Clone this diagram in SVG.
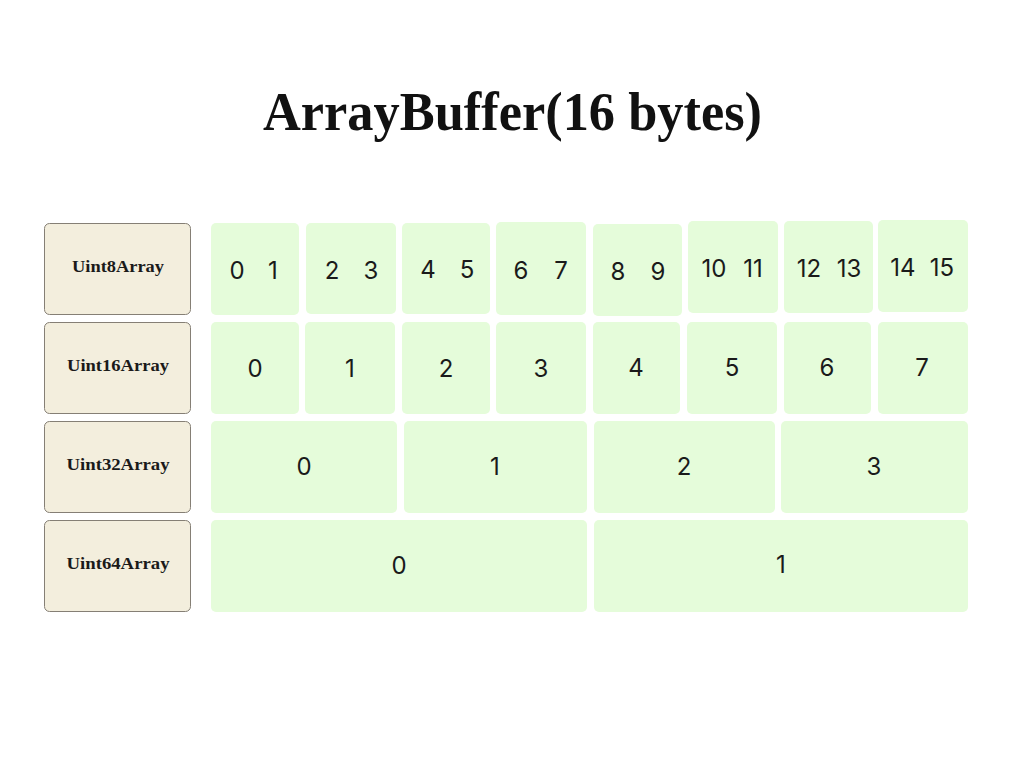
<svg xmlns="http://www.w3.org/2000/svg" width="1024" height="768" viewBox="0 0 1024 768">
<style>
.bg{fill:#ffffff}
.lbl{fill:#f3eedd;stroke:#857f75;stroke-width:1}
.lt{font-family:"Liberation Serif","DejaVu Serif",serif;font-weight:bold;font-size:16px;fill:#1a1a1a;text-anchor:middle}
.cell{fill:#e5fcda}
.num{font-family:Inter,"Open Sans",sans-serif;font-size:24px;fill:#1a1a1a;text-anchor:middle}
.title{font-family:"Liberation Serif","DejaVu Serif",serif;font-weight:bold;font-size:54px;fill:#111111;text-anchor:middle}
</style>
<rect class="bg" x="0" y="0" width="1024" height="768"/>
<text class="title" x="512.5" y="130" textLength="499" lengthAdjust="spacingAndGlyphs">ArrayBuffer(16 bytes)</text>

<g id="label-uint8">
<rect class="lbl" x="44.5" y="223.5" width="146" height="91" rx="5"/>
<text class="lt" x="118" y="272" textLength="92" lengthAdjust="spacingAndGlyphs">Uint8Array</text>
</g>
<g id="label-uint16">
<rect class="lbl" x="44.5" y="322.5" width="146" height="91" rx="5"/>
<text class="lt" x="118" y="371" textLength="102" lengthAdjust="spacingAndGlyphs">Uint16Array</text>
</g>
<g id="label-uint32">
<rect class="lbl" x="44.5" y="421.5" width="146" height="91" rx="5"/>
<text class="lt" x="118" y="470" textLength="103" lengthAdjust="spacingAndGlyphs">Uint32Array</text>
</g>
<g id="label-uint64">
<rect class="lbl" x="44.5" y="520.5" width="146" height="91" rx="5"/>
<text class="lt" x="118" y="569" textLength="103" lengthAdjust="spacingAndGlyphs">Uint64Array</text>
</g>

<g id="u8-0"><rect class="cell" x="211" y="223" width="88" height="92" rx="5"/><text class="num" y="279"><tspan x="237">0</tspan><tspan x="273">1</tspan></text></g>
<g id="u8-1"><rect class="cell" x="306" y="223" width="90" height="91" rx="5"/><text class="num" y="279"><tspan x="332">2</tspan><tspan x="371">3</tspan></text></g>
<g id="u8-2"><rect class="cell" x="402" y="223" width="88" height="91" rx="5"/><text class="num" y="278"><tspan x="428">4</tspan><tspan x="467">5</tspan></text></g>
<g id="u8-3"><rect class="cell" x="496" y="222" width="90" height="93" rx="5"/><text class="num" y="279"><tspan x="521">6</tspan><tspan x="561">7</tspan></text></g>
<g id="u8-4"><rect class="cell" x="593" y="224" width="89" height="92" rx="5"/><text class="num" y="280"><tspan x="618">8</tspan><tspan x="658">9</tspan></text></g>
<g id="u8-5"><rect class="cell" x="688" y="221" width="90" height="92" rx="5"/><text class="num" y="277"><tspan x="714">10</tspan><tspan x="753">11</tspan></text></g>
<g id="u8-6"><rect class="cell" x="784" y="221" width="89" height="92" rx="5"/><text class="num" y="277"><tspan x="809">12</tspan><tspan x="849">13</tspan></text></g>
<g id="u8-7"><rect class="cell" x="878" y="220" width="90" height="92" rx="5"/><text class="num" y="276"><tspan x="903">14</tspan><tspan x="942">15</tspan></text></g>

<g id="u16-0"><rect class="cell" x="211" y="322" width="88" height="92" rx="5"/><text class="num" x="255" y="377">0</text></g>
<g id="u16-1"><rect class="cell" x="305" y="322" width="90" height="92" rx="5"/><text class="num" x="350" y="377">1</text></g>
<g id="u16-2"><rect class="cell" x="402" y="322" width="88" height="92" rx="5"/><text class="num" x="446" y="377">2</text></g>
<g id="u16-3"><rect class="cell" x="496" y="322" width="90" height="92" rx="5"/><text class="num" x="541" y="377">3</text></g>
<g id="u16-4"><rect class="cell" x="593" y="322" width="87" height="92" rx="5"/><text class="num" x="636" y="376">4</text></g>
<g id="u16-5"><rect class="cell" x="687" y="322" width="90" height="92" rx="5"/><text class="num" x="732" y="376">5</text></g>
<g id="u16-6"><rect class="cell" x="784" y="322" width="87" height="92" rx="5"/><text class="num" x="827" y="376">6</text></g>
<g id="u16-7"><rect class="cell" x="878" y="322" width="90" height="92" rx="5"/><text class="num" x="922" y="376">7</text></g>

<g id="u32-0"><rect class="cell" x="211" y="421" width="186" height="92" rx="5"/><text class="num" x="304" y="475">0</text></g>
<g id="u32-1"><rect class="cell" x="404" y="421" width="183" height="92" rx="5"/><text class="num" x="495" y="475">1</text></g>
<g id="u32-2"><rect class="cell" x="594" y="421" width="181" height="92" rx="5"/><text class="num" x="684" y="475">2</text></g>
<g id="u32-3"><rect class="cell" x="781" y="421" width="187" height="92" rx="5"/><text class="num" x="874" y="475">3</text></g>

<g id="u64-0"><rect class="cell" x="211" y="520" width="376" height="92" rx="5"/><text class="num" x="399" y="574">0</text></g>
<g id="u64-1"><rect class="cell" x="594" y="520" width="374" height="92" rx="5"/><text class="num" x="781" y="573">1</text></g>
</svg>
